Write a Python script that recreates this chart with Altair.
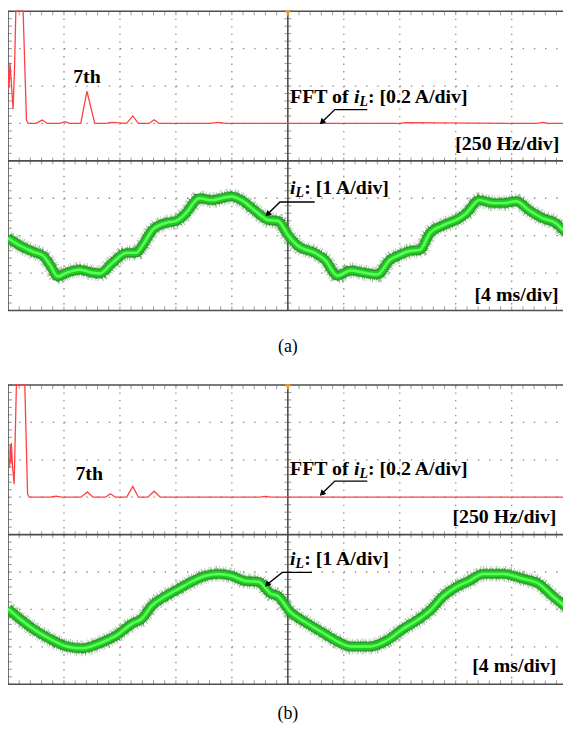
import altair as alt
import numpy as np
import pandas as pd

# ---------------- data (oscilloscope screen units: divisions) ----------------
# panel (a): time-domain inductor current (x: div of 4 ms, y: div of 1 A, centre line = 2)
WAVE_A_X = [0.00, 0.22, 0.45, 0.63, 0.75, 0.89, 1.05, 1.28, 1.51, 1.64, 1.87, 2.12, 2.29, 2.40,
            2.58, 2.82, 3.00, 3.18, 3.36, 3.41, 3.64, 3.99, 4.17, 4.42, 4.65, 4.83, 5.00, 5.18,
            5.48, 5.66, 5.89, 6.12, 6.36, 6.60, 6.83, 6.96, 7.18, 7.36, 7.54, 7.78, 8.07, 8.19,
            8.42, 8.67, 8.85, 9.08, 9.31, 9.55, 9.78, 9.97]
WAVE_A_Y = [1.94, 1.73, 1.57, 1.46, 1.22, 0.91, 1.01, 1.09, 1.01, 0.99, 1.28, 1.54, 1.54, 1.73,
            2.15, 2.34, 2.39, 2.60, 2.95, 3.00, 2.95, 3.05, 2.95, 2.66, 2.42, 2.39, 2.02, 1.73,
            1.54, 1.36, 0.93, 1.07, 1.01, 0.96, 1.36, 1.46, 1.59, 1.62, 2.07, 2.28, 2.47, 2.60,
            2.95, 2.87, 2.87, 2.92, 2.68, 2.47, 2.34, 2.07]
# panel (a): FFT of i_L (x: div of 250 Hz, y: div of 0.2 A, baseline = 5)
FFT_A_X = [0.00, 0.01, 0.02, 0.03, 0.035, 0.06, 0.09, 0.115, 0.14, 0.27, 0.33, 0.36, 0.50, 0.61,
           0.70, 0.92, 1.02, 1.10, 1.30, 1.41, 1.55, 1.75, 1.85, 2.12, 2.23, 2.33, 2.52, 2.61,
           2.70, 3.60, 3.75, 3.90, 7.00, 7.10, 9.45, 9.55, 9.65, 9.97]
FFT_A_Y = [5.88, 6.44, 5.95, 6.40, 6.62, 6.09, 5.38, 6.36, 8.00, 8.00, 5.09, 5.00, 5.00, 5.09,
           5.00, 5.00, 5.05, 5.00, 5.00, 5.86, 5.00, 5.00, 5.03, 5.00, 5.20, 5.00, 5.00, 5.10,
           5.00, 5.00, 5.03, 5.00, 5.00, 5.02, 5.00, 5.03, 5.00, 5.00]

# panel (b)
WAVE_B_X = [0.00, 0.21, 0.44, 0.74, 1.05, 1.33, 1.63, 1.93, 2.22, 2.39, 2.57, 2.82, 3.05, 3.28,
            3.53, 3.76, 3.99, 4.24, 4.47, 4.70, 4.82, 5.04, 5.30, 5.59, 5.89, 6.12, 6.47, 6.77,
            7.07, 7.30, 7.54, 7.78, 8.01, 8.24, 8.49, 8.85, 9.20, 9.49, 9.73, 9.97]
WAVE_B_Y = [2.02, 1.75, 1.49, 1.22, 1.01, 0.96, 1.09, 1.30, 1.62, 1.75, 2.10, 2.36, 2.55, 2.74,
            2.90, 2.95, 2.90, 2.76, 2.74, 2.42, 2.36, 1.94, 1.67, 1.41, 1.14, 1.01, 1.01, 1.17,
            1.49, 1.70, 1.97, 2.36, 2.60, 2.76, 2.95, 2.95, 2.82, 2.68, 2.36, 2.07]
FFT_B_X = [0.03, 0.04, 0.05, 0.06, 0.08, 0.11, 0.15, 0.30, 0.35, 0.38, 0.75, 0.86, 0.95, 1.30,
           1.42, 1.52, 1.74, 1.83, 1.92, 2.12, 2.23, 2.33, 2.50, 2.61, 2.72, 4.50, 4.60, 4.70, 9.97]
FFT_B_Y = [5.80, 6.40, 5.90, 6.45, 5.85, 5.35, 8.00, 8.00, 5.08, 5.00, 5.00, 5.03, 5.00, 5.00,
           5.14, 5.00, 5.00, 5.09, 5.00, 5.00, 5.29, 5.00, 5.00, 5.16, 5.00, 5.00, 5.02, 5.00, 5.00]

# annotation anchors (divisions, panel-local: y measured up from panel bottom)
LABELS_A = {"h7": (1.41, 6.23), "fft": (5.04, 5.70), "hz": (9.85, 4.45),
            "il": (5.04, 3.28), "ms": (9.84, 0.42), "cap": (5.0, -0.98),
            "arr_fft": [(6.42, 5.37), (5.84, 5.37), (5.62, 5.05)],
            "arr_il": [(5.48, 2.90), (4.86, 2.90), (4.65, 2.59)]}
LABELS_B = {"h7": (1.45, 5.62), "fft": (5.04, 5.75), "hz": (9.80, 4.48),
            "il": (5.04, 3.34), "ms": (9.80, 0.48), "cap": (5.0, -0.80),
            "arr_fft": [(6.42, 5.43), (5.84, 5.43), (5.62, 5.11)],
            "arr_il": [(5.43, 2.99), (4.90, 2.99), (4.64, 2.68)]}

PANELS = [("a", 0.0, WAVE_A_X, WAVE_A_Y, FFT_A_X, FFT_A_Y, LABELS_A, "(a)"),
          ("b", 9.99, WAVE_B_X, WAVE_B_Y, FFT_B_X, FFT_B_Y, LABELS_B, "(b)")]

# ---------------- layout ----------------
DIVX, DIVY = 56.47, 37.75          # pixels per division
W, H = 560, 716                    # whole chart (plot area == chart)
XMAX = W / DIVX
YMAX = H / DIVY
FONT = "Liberation Serif"
FS = 20

xs = alt.Scale(domain=[0, XMAX], nice=False, zero=False)
ys = alt.Scale(domain=[0, YMAX], nice=False, zero=False, reverse=True)


def X(f="x"):
    return alt.X(f"{f}:Q", scale=xs, axis=None)


def Y(f="gy"):
    return alt.Y(f"{f}:Q", scale=ys, axis=None)


def g(off, y):
    """panel-local division (0 = bottom, 8 = top) -> global division from chart top"""
    return off + 8 - np.asarray(y, dtype=float)


waves, ffts, vgr, hgr, frames = [], [], [], [], []
tk_top, tk_bot, tk_mid, tk_left, tk_cv = [], [], [], [], []
markers, texts, arrows, heads = [], [], [], []

tx = np.round(np.arange(0, XMAX, 0.2), 3)
ty = np.round(np.arange(0, 8.01, 0.2), 3)

for p, off, wx, wy, fx, fy, lab, cap in PANELS:
    waves.append(pd.DataFrame({"x": wx, "gy": g(off, wy), "p": p}))
    ffts.append(pd.DataFrame({"x": fx, "gy": g(off, fy), "p": p}))
    for xv in [1, 2, 3, 4, 6, 7, 8, 9]:
        vgr.append({"x": xv, "gy": off, "gy2": off + 8})
    for yv in [1, 2, 3, 5, 6, 7]:
        hgr.append({"x": 0, "x2": XMAX, "gy": g(off, yv)})
    frames += [{"x": 0, "x2": 0, "gy": off, "gy2": off + 8},
               {"x": 0, "x2": XMAX, "gy": off, "gy2": off},
               {"x": 0, "x2": XMAX, "gy": off + 8, "gy2": off + 8},
               {"x": 0, "x2": XMAX, "gy": off + 4, "gy2": off + 4},
               {"x": 5, "x2": 5, "gy": off, "gy2": off + 8}]
    tk_top += [{"x": v, "gy": off} for v in tx]
    tk_bot += [{"x": v, "gy": off + 8} for v in tx]
    tk_mid += [{"x": v, "gy": off + 4} for v in tx]
    tk_left += [{"x": 0, "gy": off + v} for v in ty]
    tk_cv += [{"x": 5, "gy": off + v} for v in ty]
    markers.append({"x": 5, "gy": off})

    def T(key, s, dx=0, dy=0, align="left", style="normal", size=FS, weight="bold"):
        xv, yv = lab[key]
        texts.append({"x": xv, "gy": float(g(off, yv)), "t": s, "dx": dx, "dy": dy,
                      "align": align, "style": style, "size": size, "weight": weight})

    T("h7", "7th", align="center")
    T("fft", "FFT of ")
    T("fft", "i", dx=64.4, style="italic")
    T("fft", "L", dx=70.0, dy=5, style="italic", size=14)
    T("fft", ": [0.2 A/div]", dx=78.6)
    T("hz", "[250 Hz/div]", align="right")
    T("il", "i", style="italic")
    T("il", "L", dx=5.6, dy=5, style="italic", size=14)
    T("il", ": [1 A/div]", dx=14.2)
    T("ms", "[4 ms/div]", align="right")
    T("cap", cap, align="center", size=18, weight="normal")

    for k in ["arr_fft", "arr_il"]:
        pts = lab[k]
        for i, (ax, ay) in enumerate(pts):
            arrows.append({"x": ax, "gy": float(g(off, ay)), "o": i, "id": p + k})
        heads.append({"x": pts[-1][0], "gy": float(g(off, pts[-1][1]))})

wave = pd.concat(waves)
fft = pd.concat(ffts)

GRID = "#8a8a8a"
TICK = "#6e6e6e"


def ticks(rows, orient, size, xo=0, yo=0):
    return alt.Chart(pd.DataFrame(rows)).mark_tick(
        orient=orient, size=size, thickness=1, color=TICK, xOffset=xo, yOffset=yo
    ).encode(x=X(), y=Y())


def band(color, width, **kw):
    return alt.Chart(wave).mark_line(color=color, strokeWidth=width, strokeJoin="round",
                                     interpolate="monotone", **kw).encode(
        x=X(), y=Y(), detail="p:N")


layers = [
    alt.Chart(pd.DataFrame(vgr)).mark_rule(color=GRID, strokeWidth=1.3, strokeDash=[1.4, 6.15])
    .encode(x=X(), y=Y(), y2="gy2:Q"),
    alt.Chart(pd.DataFrame(hgr)).mark_rule(color=GRID, strokeWidth=1.3, strokeDash=[1.4, 9.89])
    .encode(x=X(), x2="x2:Q", y=Y()),
    ticks(tk_top, "vertical", 4, yo=2),
    ticks(tk_bot, "vertical", 4, yo=-2),
    ticks(tk_mid, "vertical", 7),
    ticks(tk_left, "horizontal", 4, xo=2),
    ticks(tk_cv, "horizontal", 7),
    alt.Chart(pd.DataFrame(frames)).mark_rule(color="#4d4d4d", strokeWidth=1.6)
    .encode(x=X(), x2="x2:Q", y=Y(), y2="gy2:Q"),
    alt.Chart(fft).mark_line(color="#ff4040", strokeWidth=1.3)
    .encode(x=X(), y=Y(), detail="p:N"),
    # noisy green band of the measured current
    band("#3b7a3b", 16, strokeDash=[0.6, 1.3, 0.9, 2.4, 0.5, 1.0, 1.1, 1.9, 0.7, 2.8],
         opacity=0.45),
    band("#2f7d2f", 11.5, strokeDash=[0.8, 0.9, 1.2, 1.6, 0.6, 0.7], opacity=0.8),
    band("#2a9a2a", 9.5),
    band("#1fcf1f", 6.5),
    band("#5dff5d", 2.5),
    alt.Chart(pd.DataFrame(markers)).mark_point(
        shape="triangle-down", filled=True, size=40, color="#f0a020", opacity=1, yOffset=2
    ).encode(x=X(), y=Y()),
    alt.Chart(pd.DataFrame(arrows)).mark_line(color="black", strokeWidth=1.4)
    .encode(x=X(), y=Y(), order="o:Q", detail="id:N"),
    alt.Chart(pd.DataFrame(heads)).mark_point(
        shape="triangle", angle=225, filled=True, size=45, color="black", opacity=1
    ).encode(x=X(), y=Y()),
]

# text pieces (each piece its own mark so that style can differ)
for t in texts:
    layers.append(
        alt.Chart(pd.DataFrame([t])).mark_text(
            align=t["align"], baseline="middle", dx=t["dx"], dy=t["dy"], font=FONT,
            fontSize=t["size"], fontWeight=t["weight"], fontStyle=t["style"], color="black"
        ).encode(x=X(), y=Y(), text="t:N")
    )

chart = alt.layer(*layers).properties(
    width=W, height=H, padding=0, background="white",
    autosize=alt.AutoSizeParams(type="none"),
).configure_view(stroke="transparent")

chart.save("out.html", embed_options={"renderer": "svg", "actions": False})
